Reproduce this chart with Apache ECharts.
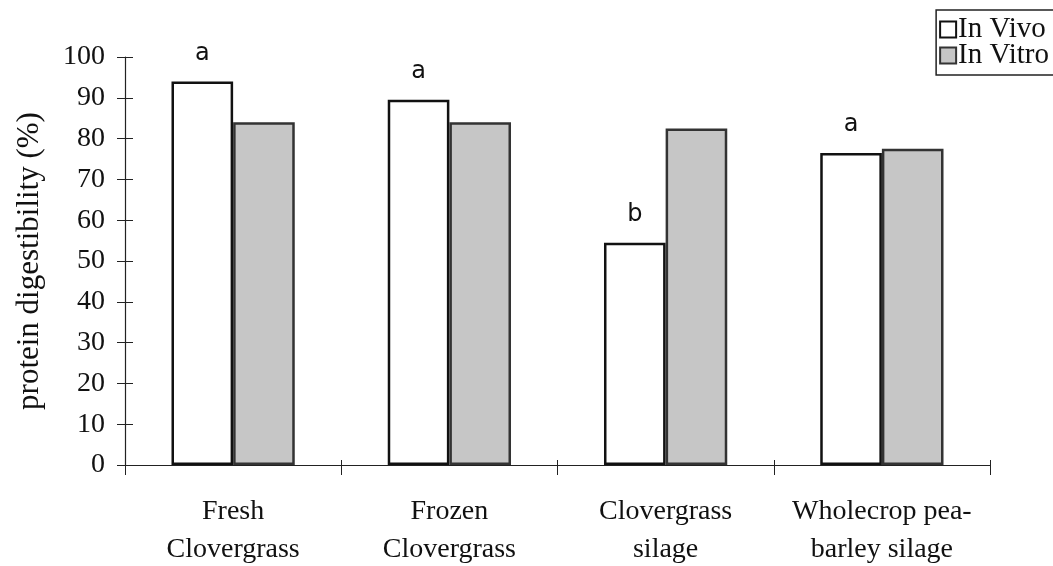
<!DOCTYPE html>
<html><head><meta charset="utf-8">
<script src="https://cdn.jsdelivr.net/npm/echarts@6/dist/echarts.min.js"></script>
<style>html,body{margin:0;padding:0;background:#fff}#c{width:1053px;height:566px}</style>
</head><body><div id="c"></div>
<script>
const categories = ['Fresh\nClovergrass', 'Frozen\nClovergrass', 'Clovergrass\nsilage', 'Wholecrop pea-\nbarley silage'];
const inVivo = [94, 89.5, 54.5, 76.5];
const inVitro = [84, 84, 82.5, 77.5];
const letters = ['a', 'a', 'b', 'a'];
const yTicks = {min: 0, max: 100, interval: 10};

const F = 'Liberation Serif, DejaVu Serif, serif';
const chart = echarts.init(document.getElementById('c'));
chart.setOption({
  animation: false,
  backgroundColor: '#fff',
  grid: {left: 125, right: 63, top: 57, bottom: 101, containLabel: false, outerBoundsMode: 'none'},
  legend: {
    orient: 'vertical', right: -6, top: 10,
    data: ['In Vivo', 'In Vitro'],
    icon: 'rect', itemWidth: 16, itemHeight: 16, itemGap: -3,
    borderColor: '#222', borderWidth: 1.5, padding: [5, 10, 5, 3],
    textStyle: {fontFamily: F, fontSize: 29, color: '#111', padding: [0, 0, 0, -3]}
  },
  xAxis: [{
    type: 'category', data: categories,
    axisLine: {lineStyle: {color: '#222', width: 1.2}},
    axisTick: {show: true, length: 10, lineStyle: {color: '#222'}},
    axisLabel: {fontFamily: F, fontSize: 28, color: '#111', margin: 28, lineHeight: 38, interval: 0}
  }, {
    type: 'category', data: categories, position: 'bottom',
    axisLine: {show: false},
    axisTick: {show: true, inside: true, length: 5, lineStyle: {color: '#222'}},
    axisLabel: {show: false}
  }],
  yAxis: [{
    type: 'value', min: yTicks.min, max: yTicks.max, interval: yTicks.interval,
    name: 'protein digestibility (%)', nameLocation: 'middle', nameGap: 80,
    nameTextStyle: {fontFamily: F, fontSize: 31, color: '#111'},
    splitLine: {show: false},
    axisLine: {show: true, lineStyle: {color: '#222', width: 1.2}},
    axisTick: {show: true, length: 8, lineStyle: {color: '#222'}},
    axisLabel: {fontFamily: F, fontSize: 28, color: '#111', margin: 20}
  }, {
    type: 'value', min: yTicks.min, max: yTicks.max, interval: yTicks.interval, position: 'left',
    splitLine: {show: false},
    axisLine: {show: false},
    axisTick: {show: true, inside: true, length: 8, lineStyle: {color: '#222'}},
    axisLabel: {show: false}
  }],
  series: [{
    name: 'In Vivo', type: 'bar', data: inVivo, barGap: '0%', barCategoryGap: '43%',
    itemStyle: {color: '#fff', borderColor: '#111', borderWidth: 2.5},
    label: {show: true, position: 'top', distance: 16,
      formatter: p => letters[p.dataIndex],
      fontFamily: 'DejaVu Sans, sans-serif', fontSize: 24, color: '#111'}
  }, {
    name: 'In Vitro', type: 'bar', data: inVitro,
    itemStyle: {color: '#c6c6c6', borderColor: '#333', borderWidth: 2.5}
  }]
});
</script></body></html>
